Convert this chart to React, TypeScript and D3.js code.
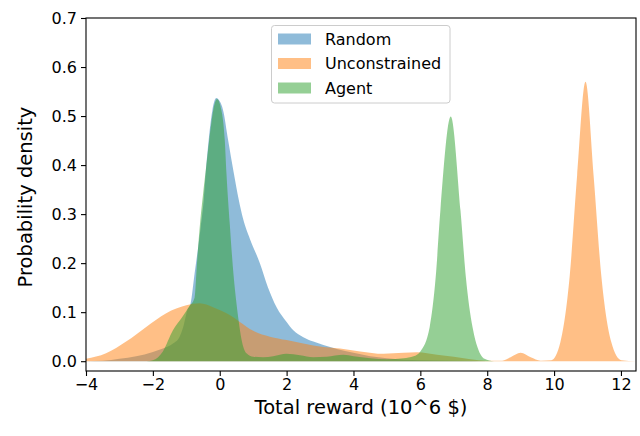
import React, { useEffect, useRef } from 'react';
import * as d3 from 'd3';

// values (x = total reward, y = density)
const randomPts: [number, number][] = [
  [-4, 0], [-3.5, 0.001], [-3.0, 0.005], [-2.5, 0.01], [-2.0, 0.019], [-1.7, 0.026],
  [-1.4, 0.036], [-1.2, 0.05], [-1.1, 0.068], [-0.97, 0.104], [-0.87, 0.118],
  [-0.75, 0.18], [-0.65, 0.23], [-0.57, 0.273], [-0.48, 0.329], [-0.42, 0.384],
  [-0.33, 0.451], [-0.22, 0.512], [-0.1, 0.537], [0.0, 0.53], [0.1, 0.512],
  [0.25, 0.451], [0.42, 0.384], [0.57, 0.329], [0.7, 0.29], [0.9, 0.25],
  [1.2, 0.2], [1.44, 0.151], [1.7, 0.11], [2.0, 0.08], [2.2, 0.063], [2.5, 0.049],
  [2.8, 0.04], [3.1, 0.033], [3.5, 0.025], [4.0, 0.017], [4.5, 0.01], [5.0, 0.006],
  [5.5, 0.003], [6.0, 0.002], [7.0, 0.001], [8.0, 0], [12.5, 0],
];

const unconstrainedPts: [number, number][] = [
  [-4.2, 0.003], [-4.0, 0.005], [-3.4, 0.016], [-2.8, 0.04], [-2.2, 0.07], [-1.6, 0.098],
  [-1.0, 0.114], [-0.6, 0.118], [-0.2, 0.11], [0.3, 0.094], [0.6, 0.08], [1.0, 0.062],
  [1.5, 0.05], [2.0, 0.043], [2.5, 0.036], [3.1, 0.029], [3.6, 0.026], [4.2, 0.02],
  [4.9, 0.015], [5.5, 0.017], [5.9, 0.018], [6.5, 0.013], [7.0, 0.009], [7.5, 0.004],
  [8.0, 0.001], [8.45, 0.001], [8.7, 0.008], [9.0, 0.017], [9.3, 0.008], [9.6, 0.001],
  [9.92, 0.002], [10.19, 0.039], [10.47, 0.176], [10.69, 0.38], [10.94, 0.57],
  [11.18, 0.38], [11.41, 0.176], [11.71, 0.039], [12.01, 0.002], [12.5, 0],
];

const agentPts: [number, number][] = [
  [-2.2, 0], [-2.0, 0.002], [-1.7, 0.02], [-1.4, 0.063], [-1.12, 0.09], [-0.92, 0.111],
  [-0.75, 0.13], [-0.68, 0.2], [-0.58, 0.288], [-0.5, 0.34], [-0.4, 0.4], [-0.3, 0.46],
  [-0.2, 0.51], [-0.08, 0.535], [0.05, 0.512], [0.15, 0.451], [0.2, 0.384],
  [0.3, 0.28], [0.4, 0.186], [0.5, 0.118], [0.57, 0.08], [0.65, 0.045], [0.8, 0.016],
  [1.0, 0.009], [1.3, 0.008], [1.6, 0.01], [2.0, 0.015], [2.4, 0.012], [2.8, 0.008],
  [3.2, 0.009], [3.7, 0.013], [4.0, 0.01], [4.5, 0.006], [5.0, 0.004], [5.5, 0.006],
  [5.8, 0.01], [6.0, 0.02], [6.28, 0.07], [6.46, 0.172], [6.6, 0.308], [6.91, 0.499],
  [7.2, 0.308], [7.36, 0.172], [7.56, 0.07], [7.92, 0.005], [8.2, 0], [12.5, 0],
];

const seriesNames = ['Random', 'Unconstrained', 'Agent'];
const seriesColors = ['#1f77b4', '#ff7f0e', '#2ca02c'];
const xTicks = [-4, -2, 0, 2, 4, 6, 8, 10, 12];
const yTicks = [0, 0.1, 0.2, 0.3, 0.4, 0.5, 0.6, 0.7];

const W = 640;
const H = 436;
const margin = { left: 86, right: 4, top: 18, bottom: 65 };

export default function App() {
  const ref = useRef<SVGSVGElement>(null);

  useEffect(() => {
    const svg = d3.select(ref.current);
    svg.selectAll('*').remove();

    const x = d3.scaleLinear().domain([-4, 12.45]).range([margin.left, W - margin.right]);
    const y = d3.scaleLinear().domain([-0.02, 0.7]).range([H - margin.bottom, margin.top]);

    svg.append('defs').append('clipPath').attr('id', 'plotclip')
      .append('rect')
      .attr('x', margin.left).attr('y', margin.top)
      .attr('width', W - margin.left - margin.right)
      .attr('height', H - margin.top - margin.bottom);

    const area = d3.area<[number, number]>()
      .x(d => x(d[0]))
      .y0(y(0))
      .y1(d => y(d[1]))
      .curve(d3.curveMonotoneX);

    const g = svg.append('g').attr('clip-path', 'url(#plotclip)');
    [randomPts, unconstrainedPts, agentPts].forEach((pts, i) => {
      g.append('path')
        .attr('d', area(pts))
        .attr('fill', seriesColors[i])
        .attr('fill-opacity', 0.5);
    });

    // axes
    const font = 'DejaVu Sans, sans-serif';
    const xAxis = svg.append('g')
      .attr('transform', `translate(0,${H - margin.bottom})`)
      .call(d3.axisBottom(x).tickValues(xTicks).tickSize(5).tickPadding(3)
        .tickFormat(d => d3.format('d')(d as number).replace('-', '\u2212')));
    const yAxis = svg.append('g')
      .attr('transform', `translate(${margin.left},0)`)
      .call(d3.axisLeft(y).tickValues(yTicks).tickSize(5).tickPadding(4)
        .tickFormat(d3.format('.1f')));
    [xAxis, yAxis].forEach(a => {
      a.select('.domain').remove();
      a.selectAll('line').attr('stroke', '#000').attr('stroke-width', 1.1);
      a.selectAll('text').attr('font-family', font).attr('font-size', 16).attr('fill', '#000');
    });

    // frame
    svg.append('rect')
      .attr('x', margin.left).attr('y', margin.top)
      .attr('width', W - margin.left - margin.right)
      .attr('height', H - margin.top - margin.bottom)
      .attr('fill', 'none').attr('stroke', '#000').attr('stroke-width', 1.1);

    svg.append('text')
      .attr('x', (margin.left + W - margin.right) / 2)
      .attr('y', 414)
      .attr('text-anchor', 'middle')
      .attr('font-family', font).attr('font-size', 19.5)
      .text('Total reward (10^6 $)');

    svg.append('text')
      .attr('transform', `translate(32,${(margin.top + 376) / 2}) rotate(-90)`)
      .attr('text-anchor', 'middle')
      .attr('font-family', font).attr('font-size', 19.5)
      .text('Probability density');

    // legend
    const lg = svg.append('g');
    lg.append('rect')
      .attr('x', 271.5).attr('y', 25.5).attr('width', 178.5).attr('height', 77.5)
      .attr('rx', 3).attr('fill', '#fff').attr('fill-opacity', 0.8)
      .attr('stroke', '#cccccc').attr('stroke-width', 1);
    seriesNames.forEach((name, i) => {
      const cy = 39 + i * 24.5;
      lg.append('rect')
        .attr('x', 278).attr('y', cy - 5.5).attr('width', 33).attr('height', 11)
        .attr('fill', seriesColors[i]).attr('fill-opacity', 0.5);
      lg.append('text')
        .attr('x', 325).attr('y', cy + 5.5)
        .attr('font-family', font).attr('font-size', 16)
        .text(name);
    });
  }, []);

  return (
    <svg ref={ref} width={W} height={H} style={{ position: 'absolute', left: 0, top: 0, background: '#fff' }} />
  );
}
